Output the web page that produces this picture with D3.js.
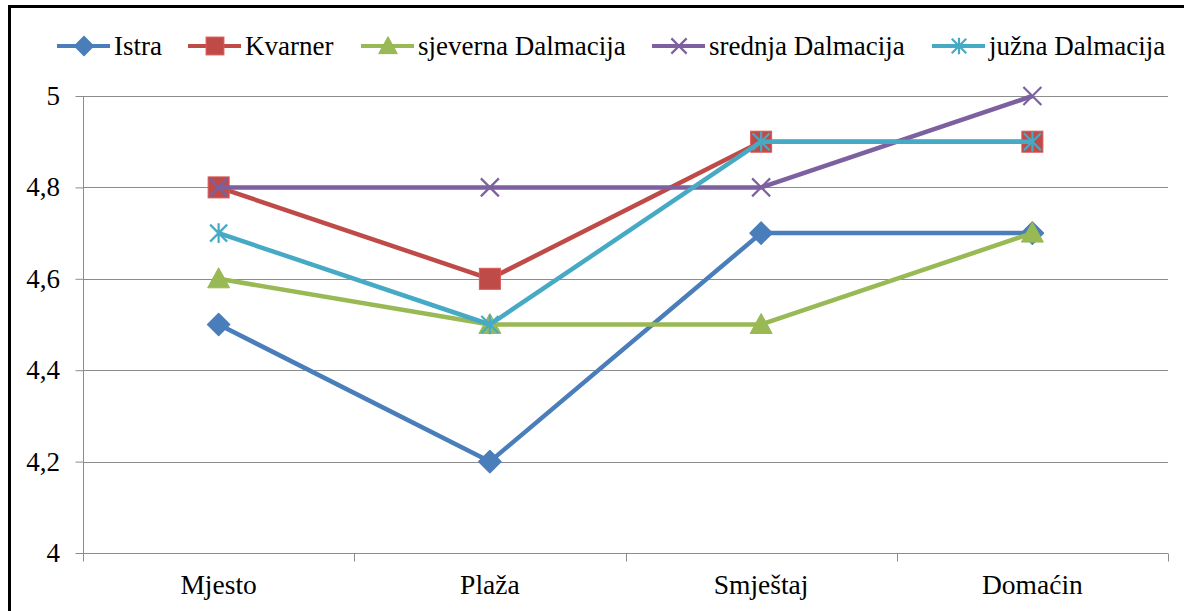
<!DOCTYPE html>
<html>
<head>
<meta charset="utf-8">
<script src="https://cdn.jsdelivr.net/npm/d3@7"></script>
</head>
<body style="margin:0">
<svg id="chart" width="1184" height="611"></svg>
<script>
// categories and series
const categories = ["Mjesto", "Plaža", "Smještaj", "Domaćin"];
const seriesNames = ["Istra", "Kvarner", "sjeverna Dalmacija", "srednja Dalmacija", "južna Dalmacija"];
const istra = [4.5, 4.2, 4.7, 4.7];
const kvarner = [4.8, 4.6, 4.9, 4.9];
const sjeverna = [4.6, 4.5, 4.5, 4.7];
const srednja = [4.8, 4.8, 4.8, 5.0];
const juzna = [4.7, 4.5, 4.9, 4.9];
const yTicks = [4, 4.2, 4.4, 4.6, 4.8, 5];

const colors = ["#4a7ebb", "#be4b48", "#98b954", "#7d60a0", "#46aac5"];
const shapes = ["diamond", "square", "triangle", "x", "star"];
const FONT = "Liberation Serif";

const series = [istra, kvarner, sjeverna, srednja, juzna].map((vals, i) => ({
  name: seriesNames[i], values: vals, color: colors[i], shape: shapes[i]
}));

const svg = d3.select("#chart");

//Outer frame
svg.append("rect")
  .attr("x", 9.5).attr("y", 6.5)
  .attr("width", 1190).attr("height", 620)
  .attr("fill", "none").attr("stroke", "#000").attr("stroke-width", 3);

const plot = { left: 83, right: 1168, top: 96, bottom: 553 };

const x = d3.scaleBand()
  .domain(categories)
  .range([plot.left, plot.right]);
const y = d3.scaleLinear()
  .domain([4, 5])
  .range([plot.bottom, plot.top]);

//Gridlines
svg.append("g")
  .selectAll("line")
  .data(yTicks.slice(1))
  .join("line")
  .attr("x1", plot.left).attr("x2", plot.right)
  .attr("y1", d => Math.round(y(d)) + 0.5).attr("y2", d => Math.round(y(d)) + 0.5)
  .attr("stroke", "#8c8c8c").attr("stroke-width", 1);

//Y axis: ticks from d3, labels as plain texts
const yAxis = svg.append("g")
  .attr("transform", `translate(${plot.left + 0.5},0)`)
  .call(d3.axisLeft(y).tickValues(yTicks).tickSize(8).tickFormat(""));
yAxis.select(".domain").attr("stroke", "#8c8c8c").attr("d", `M0,${plot.top}V${plot.bottom}`);
yAxis.selectAll(".tick line").attr("stroke", "#8c8c8c");
yAxis.selectAll(".tick text").remove();
yTicks.forEach(d => {
  svg.append("text")
    .attr("x", plot.left - 23)
    .attr("y", y(d) + 9)
    .attr("text-anchor", "end")
    .attr("font-family", FONT)
    .attr("font-size", 27)
    .text(d3.format(".1~f")(d).replace(".", ","));
});

//X axis
const xAxis = svg.append("g")
  .attr("transform", `translate(0,${plot.bottom + 0.5})`)
  .call(d3.axisBottom(x).tickSize(0).tickFormat(""));
xAxis.select(".domain").attr("stroke", "#8c8c8c").attr("d", `M${plot.left},0H${plot.right}`);
xAxis.selectAll(".tick text").remove();
xAxis.append("g")
  .selectAll("line")
  .data(categories.concat(["_end"]))
  .join("line")
  .attr("x1", (d, i) => Math.round(plot.left + i * x.bandwidth()) + 0.5)
  .attr("x2", (d, i) => Math.round(plot.left + i * x.bandwidth()) + 0.5)
  .attr("y1", 0).attr("y2", 8)
  .attr("stroke", "#8c8c8c");
categories.forEach(c => {
  svg.append("text")
    .attr("x", x(c) + x.bandwidth() / 2)
    .attr("y", 594)
    .attr("text-anchor", "middle")
    .attr("font-family", FONT)
    .attr("font-size", 27.5)
    .text(c);
});

//Marker shapes
function marker(sel, shape, color, size) {
  const s = size;
  if (shape === "diamond") {
    sel.append("path")
      .attr("d", `M0,${-s * 0.55}L${s * 0.55},0L0,${s * 0.55}L${-s * 0.55},0Z`)
      .attr("fill", color).attr("stroke", color).attr("stroke-width", 1.5).attr("stroke-linejoin", "round");
  } else if (shape === "square") {
    sel.append("rect")
      .attr("x", -s / 2).attr("y", -s / 2).attr("width", s).attr("height", s)
      .attr("fill", color).attr("stroke", d3.color(color).brighter(0.4)).attr("stroke-width", 1);
  } else if (shape === "triangle") {
    sel.append("path")
      .attr("d", `M0,${-s * 0.55}L${s * 0.55},${s * 0.45}L${-s * 0.55},${s * 0.45}Z`)
      .attr("fill", color).attr("stroke", color).attr("stroke-width", 1).attr("stroke-linejoin", "round");
  } else if (shape === "x") {
    const h = s / 2;
    sel.append("path")
      .attr("d", `M${-h},${-h}L${h},${h}M${-h},${h}L${h},${-h}`)
      .attr("stroke", color).attr("stroke-width", 2.2).attr("fill", "none");
  } else if (shape === "star") {
    const h = s / 2;
    sel.append("path")
      .attr("d", `M${-h},${-h}L${h},${h}M${-h},${h}L${h},${-h}M0,${-h * 1.15}V${h * 1.15}`)
      .attr("stroke", color).attr("stroke-width", 2.2).attr("fill", "none");
  }
}
const markerSize = { diamond: 20, square: 21, triangle: 20, x: 18, star: 17 };

//Series
const line = d3.line()
  .x((d, i) => x(categories[i]) + x.bandwidth() / 2)
  .y(d => y(d));

const gSeries = svg.append("g");
series.forEach(s => {
  const g = gSeries.append("g");
  g.append("path")
    .datum(s.values)
    .attr("d", line)
    .attr("fill", "none")
    .attr("stroke", s.color)
    .attr("stroke-width", 4.5)
    .attr("stroke-linejoin", "round");
  g.selectAll("g.pt")
    .data(s.values)
    .join("g")
    .attr("class", "pt")
    .attr("transform", (d, i) => `translate(${x(categories[i]) + x.bandwidth() / 2},${y(d)})`)
    .each(function () { marker(d3.select(this), s.shape, s.color, markerSize[s.shape]); });
});

//Legend
const legendX = [57, 188, 361, 652, 932];
series.forEach((s, i) => {
  const lx = legendX[i];
  svg.append("line")
    .attr("x1", lx).attr("x2", lx + 53).attr("y1", 46).attr("y2", 46)
    .attr("stroke", s.color).attr("stroke-width", 4);
  const m = svg.append("g").attr("transform", `translate(${lx + 27},46)`);
  marker(m, s.shape, s.color, markerSize[s.shape] * 0.85);
  svg.append("text")
    .attr("x", lx + 57).attr("y", 55)
    .attr("font-family", FONT)
    .attr("font-size", 27)
    .text(s.name);
});
</script>
</body>
</html>
